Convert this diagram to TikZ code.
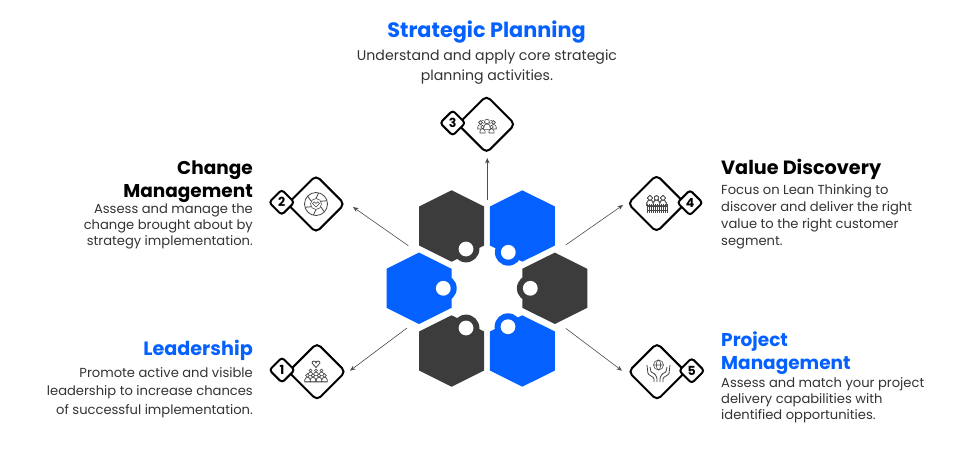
\documentclass[tikz,border=0pt]{standalone}
\usepackage{fontspec}
\setmainfont{Poppins}
\usetikzlibrary{arrows.meta,shapes.geometric}
\definecolor{HexBlue}{HTML}{0461FF}
\definecolor{HexDark}{HTML}{3C3C3C}
\definecolor{IconGray}{HTML}{444444}
\newcommand\HexKnob[5]{%
    % center x, center y, hole x, hole y, color
    \fill[#5] (#1,#2-35.7) -- (#1+32.5,#2-19.5) -- (#1+32.5,#2+19.5) -- (#1,#2+35.7) -- (#1-32.5,#2+19.5) -- (#1-32.5,#2-19.5) -- cycle;
    \fill[#5] (#3,#4) circle (13.4);
    \fill[white] (#3,#4) circle (7.4);
}
\newcommand\IconPerson[3]{%
    \draw[icon,fill=white] (#1-#3*1.1,#2+#3*2.6) -- (#1-#3*1.1,#2+#3*1.9) arc (180:360:#3*1.1) -- (#1+#3*1.1,#2+#3*2.6) -- cycle;
    \draw[icon,fill=white] (#1,#2) circle (#3*0.75);
}
\tikzset{
    bigdiamond/.style={diamond,draw=black,line width=2pt,fill=white,rounded corners=5pt,inner sep=0pt,minimum size=58pt},
    numdiamond/.style={diamond,draw=black,line width=2pt,fill=white,rounded corners=3pt,inner sep=0pt,minimum size=26pt,font=\bfseries\fontsize{12.5}{12.5}\selectfont},
    pointer/.style={draw=black!70,line width=0.6pt,-{Stealth[length=5.5pt,width=4.5pt]}},
    icon/.style={draw=IconGray,line width=0.55pt},
    headline/.style={font=\bfseries\fontsize{#1}{23}\selectfont,inner sep=0pt},
    headline/.default=19.2,
    bodytext/.style={font=\fontsize{13.1}{#1}\selectfont,text=black!80,inner sep=0pt},
    bodytext/.default=17,
}
\begin{document}
\begin{tikzpicture}[x=1pt,y=-1pt]
    \useasboundingbox (0,0) rectangle (963,458);
    % hexagons
    \HexKnob{451.6}{226}{466}{249}{HexDark}
    \HexKnob{522.3}{226}{508.3}{252.3}{HexBlue}
    \HexKnob{419}{288.3}{443.3}{288.3}{HexBlue}
    \HexKnob{554.8}{288.3}{530.3}{288.3}{HexDark}
    \HexKnob{451.6}{351}{466}{328}{HexDark}
    \HexKnob{522.3}{351}{508}{326.7}{HexBlue}
    % pointers
    \coordinate (PlanFrom) at (487.3,200);
    \coordinate (PlanTo) at (487.3,158);
    \coordinate (ChangeFrom) at (408.3,245.7);
    \coordinate (ChangeTo) at (353,207);
    \coordinate (LeadFrom) at (407,328);
    \coordinate (LeadTo) at (350,370.7);
    \coordinate (ValueFrom) at (565.7,245);
    \coordinate (ValueTo) at (623,205);
    \coordinate (ProjectFrom) at (565.7,328.3);
    \coordinate (ProjectTo) at (622,370.7);
    \draw[pointer] (PlanFrom) -- (PlanTo);
    \draw[pointer] (ChangeFrom) -- (ChangeTo);
    \draw[pointer] (LeadFrom) -- (LeadTo);
    \draw[pointer] (ValueFrom) -- (ValueTo);
    \draw[pointer] (ProjectFrom) -- (ProjectTo);
    % diamonds
    \node[bigdiamond] (PlanBox) at (486.5,124.3) {};
    \node[numdiamond] (PlanNum) at (452.7,123) {3};
    \node[bigdiamond] (ChangeBox) at (316,204) {};
    \node[numdiamond] (ChangeNum) at (281.7,202.3) {2};
    \node[bigdiamond] (LeadBox) at (317,371.7) {};
    \node[numdiamond] (LeadNum) at (282,370) {1};
    \node[bigdiamond] (ValueBox) at (656.5,203.5) {};
    \node[numdiamond] (ValueNum) at (690,202.7) {4};
    \node[bigdiamond] (ProjectBox) at (657,371.7) {};
    \node[numdiamond] (ProjectNum) at (691.7,370.7) {5};
    % icon 3: team under a sun
    \foreach \a in {20,55,90,125,160}
        \draw[icon] (487,119) ++(\a:3.5) -- ++(\a:2.5);
    \IconPerson{480.5}{122.5}{2.5}
    \IconPerson{493.5}{122.5}{2.5}
    \IconPerson{487}{121.5}{3.1}
    \IconPerson{482.5}{127}{2.3}
    \IconPerson{491.5}{127}{2.3}
    % icon 2: ball with a heart
    \draw[icon,line width=0.8pt] (316,204) circle (11.5);
    \draw[icon] (316,204) circle (5.5);
    \foreach \a in {30,90,...,330}
        \draw[icon,line width=0.8pt] (316,204) ++(\a:5.5) -- ++(\a+25:6);
    \draw[icon] (316,207) -- (312.5,203.5) arc (180:360:1.75) arc (180:360:1.75) -- cycle;
    % icon 1: heart over an audience
    \draw[icon,line width=0.8pt] (316,367.5) -- (312,363) arc (180:360:2) arc (180:360:2) -- cycle;
    \foreach \x in {310.5,316,321.5} \IconPerson{\x}{370.5}{2}
    \foreach \x in {307.5,313,319,324.5} \IconPerson{\x}{375.5}{2.4}
    % icon 4: people behind a fence
    \foreach \x in {650,656.5,663} \IconPerson{\x}{198}{2.8}
    \foreach \x in {647,649,...,667} \draw[icon] (\x,204) -- (\x,213);
    \draw[icon,line width=0.9pt] (646.5,206.5) -- (667.5,206.5) (646.5,210.5) -- (667.5,210.5);
    % icon 5: hands around a globe
    \draw[icon] (658.5,365) circle (5);
    \draw[icon] (658.5,365) ellipse (2.2 and 5) (653.5,365) -- (663.5,365);
    \draw[icon,line width=0.8pt,rounded corners=1pt] (647,365) -- (648,374) -- (654,378) -- (654,382) (650,367) -- (651,372) -- (655,374) -- (657,378) -- (657,382);
    \draw[icon,line width=0.8pt,rounded corners=1pt] (670,365) -- (669,374) -- (663,378) -- (663,382) (667,367) -- (666,372) -- (662,374) -- (660,378) -- (660,382);
    % texts
    \node[headline=20.8,text=HexBlue,anchor=base] (PlanTitle) at (486.5,37) {Strategic Planning};
    \node[font=\fontsize{14.1}{20}\selectfont,text=black!80,inner sep=0pt,align=center,anchor=north] (PlanText) at (487,50) {Understand and apply core strategic\\planning activities.};
    \node[headline=18.5,align=right,anchor=north east] (ChangeTitle) at (253,161) {Change\\Management};
    \node[bodytext=16,align=right,anchor=north east] (ChangeText) at (253,204) {Assess and manage the\\change brought about by\\strategy implementation.};
    \node[headline,text=HexBlue,anchor=north east] (LeadTitle) at (253,340) {Leadership};
    \node[bodytext=18.5,align=right,anchor=north east] (LeadText) at (253,367) {Promote active and visible\\leadership to increase chances\\of successful implementation.};
    \node[headline,anchor=north west] (ValueTitle) at (721,159) {Value Discovery};
    \node[bodytext=17,align=left,anchor=north west] (ValueText) at (721,184) {Focus on Lean Thinking to\\discover and deliver the right\\value to the right customer\\segment.};
    \node[headline=18.5,text=HexBlue,align=left,anchor=north west] (ProjectTitle) at (721,331) {Project\\Management};
    \node[bodytext=16,align=left,anchor=north west] (ProjectText) at (721,377) {Assess and match your project\\delivery capabilities with\\identified opportunities.};
\end{tikzpicture}
\end{document}
